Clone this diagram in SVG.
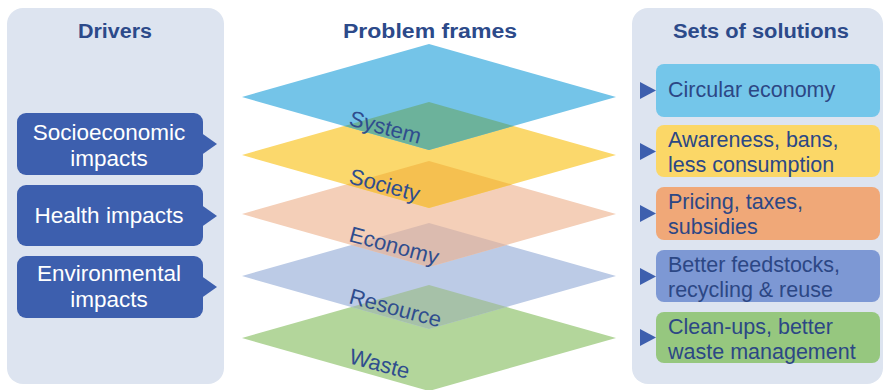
<svg xmlns="http://www.w3.org/2000/svg" width="886" height="390" viewBox="0 0 886 390">
<style>
.panel{fill:#dde4f0}
.title{font-family:"Liberation Sans",Arial,sans-serif;font-weight:bold;font-size:20px;fill:#2c4a8a;text-anchor:middle}
.drv{fill:#3d5fae}
.drvt{font-family:"Liberation Sans",Arial,sans-serif;font-size:22.5px;fill:#ffffff;text-anchor:middle}
.sol{font-family:"Liberation Sans",Arial,sans-serif;font-size:21.5px;fill:#2c4785}
.lab{font-family:"Liberation Sans",Arial,sans-serif;font-size:22px;fill:#2f4d8e}
.arr{fill:#3d5fae}
</style>
<rect class="panel" x="7" y="8" width="217" height="376" rx="16"/>
<rect class="panel" x="632" y="8" width="251" height="376" rx="16"/>
<text class="title" x="115" y="38" textLength="74" lengthAdjust="spacingAndGlyphs">Drivers</text>
<text class="title" x="430" y="38" textLength="174" lengthAdjust="spacingAndGlyphs">Problem frames</text>
<text class="title" x="761" y="38" textLength="176" lengthAdjust="spacingAndGlyphs">Sets of solutions</text>

<g id="connectors">
<polygon class="arr" points="200,132 217,144 200,156"/>
<polygon class="arr" points="200,204 217,216 200,228"/>
<polygon class="arr" points="200,275 217,287 200,299"/>
<polygon class="arr" points="640,82 656,90.5 640,99"/>
<polygon class="arr" points="640,143 656,151.5 640,160"/>
<polygon class="arr" points="640,205 656,213.5 640,222"/>
<polygon class="arr" points="640,268 656,276.5 640,285"/>
<polygon class="arr" points="640,329 656,337.5 640,346"/>
</g>

<g id="driver-socioeconomic">
<rect class="drv" x="17" y="113" width="186" height="62" rx="9"/>
<text class="drvt" x="109" y="140">Socioeconomic</text>
<text class="drvt" x="109" y="166">impacts</text>
</g>
<g id="driver-health">
<rect class="drv" x="17" y="185" width="186" height="61" rx="9"/>
<text class="drvt" x="109" y="223">Health impacts</text>
</g>
<g id="driver-environmental">
<rect class="drv" x="17" y="256" width="186" height="62" rx="9"/>
<text class="drvt" x="109" y="281">Environmental</text>
<text class="drvt" x="109" y="307">impacts</text>
</g>

<g id="frame-waste"><path d="M242,338 L429,285 L616,338 L429,391 Z" fill="#b3d69b"/></g>
<g id="frame-resource"><path d="M242,276 L429,223 L616,276 L429,329 Z" fill="#bccbe6"/></g>
<g id="frame-economy"><path d="M242,214 L429,161 L616,214 L429,267 Z" fill="#f4cfb8"/></g>
<g id="frame-society"><path d="M242,155 L429,102 L616,155 L429,208 Z" fill="#fbd86c"/></g>
<g id="frame-system"><path d="M242,97 L429,44 L616,97 L429,150 Z" fill="#74c4e8"/></g>
<g id="overlaps">
<path d="M344.3,126 L429,102 L513.7,126 L429,150 Z" fill="#6cb29b"/>
<path d="M346,184.5 L429,161 L512,184.5 L429,208 Z" fill="#f5c050"/>
<path d="M351.4,245 L429,223 L506.6,245 L429,267 Z" fill="#dbbbaf"/>
<path d="M351.4,307 L429,285 L506.6,307 L429,329 Z" fill="#a6c1a8"/>
</g>
<g id="frame-labels">
<text class="lab" x="348" y="125" transform="rotate(15 348 125)">System</text>
<text class="lab" x="348" y="183" transform="rotate(15 348 183)">Society</text>
<text class="lab" x="348" y="241" transform="rotate(15 348 241)">Economy</text>
<text class="lab" x="348" y="303" transform="rotate(15 348 303)">Resource</text>
<text class="lab" x="348" y="363" transform="rotate(15 348 363)">Waste</text>
</g>

<g id="solution-circular">
<rect x="656" y="64" width="224" height="53" rx="8" fill="#74c6ea"/>
<text class="sol" x="668" y="97">Circular economy</text>
</g>
<g id="solution-awareness">
<rect x="656" y="125" width="224" height="52" rx="8" fill="#fbd767"/>
<text class="sol" x="668" y="147">Awareness, bans,</text>
<text class="sol" x="668" y="172">less consumption</text>
</g>
<g id="solution-pricing">
<rect x="656" y="187" width="224" height="53" rx="8" fill="#f0a878"/>
<text class="sol" x="668" y="209">Pricing, taxes,</text>
<text class="sol" x="668" y="234">subsidies</text>
</g>
<g id="solution-feedstocks">
<rect x="656" y="250" width="224" height="52" rx="8" fill="#7d98d4"/>
<text class="sol" x="668" y="272">Better feedstocks,</text>
<text class="sol" x="668" y="297">recycling &amp; reuse</text>
</g>
<g id="solution-cleanups">
<rect x="656" y="312" width="224" height="51" rx="8" fill="#96c77f"/>
<text class="sol" x="668" y="334">Clean-ups, better</text>
<text class="sol" x="668" y="359">waste management</text>
</g>
</svg>
